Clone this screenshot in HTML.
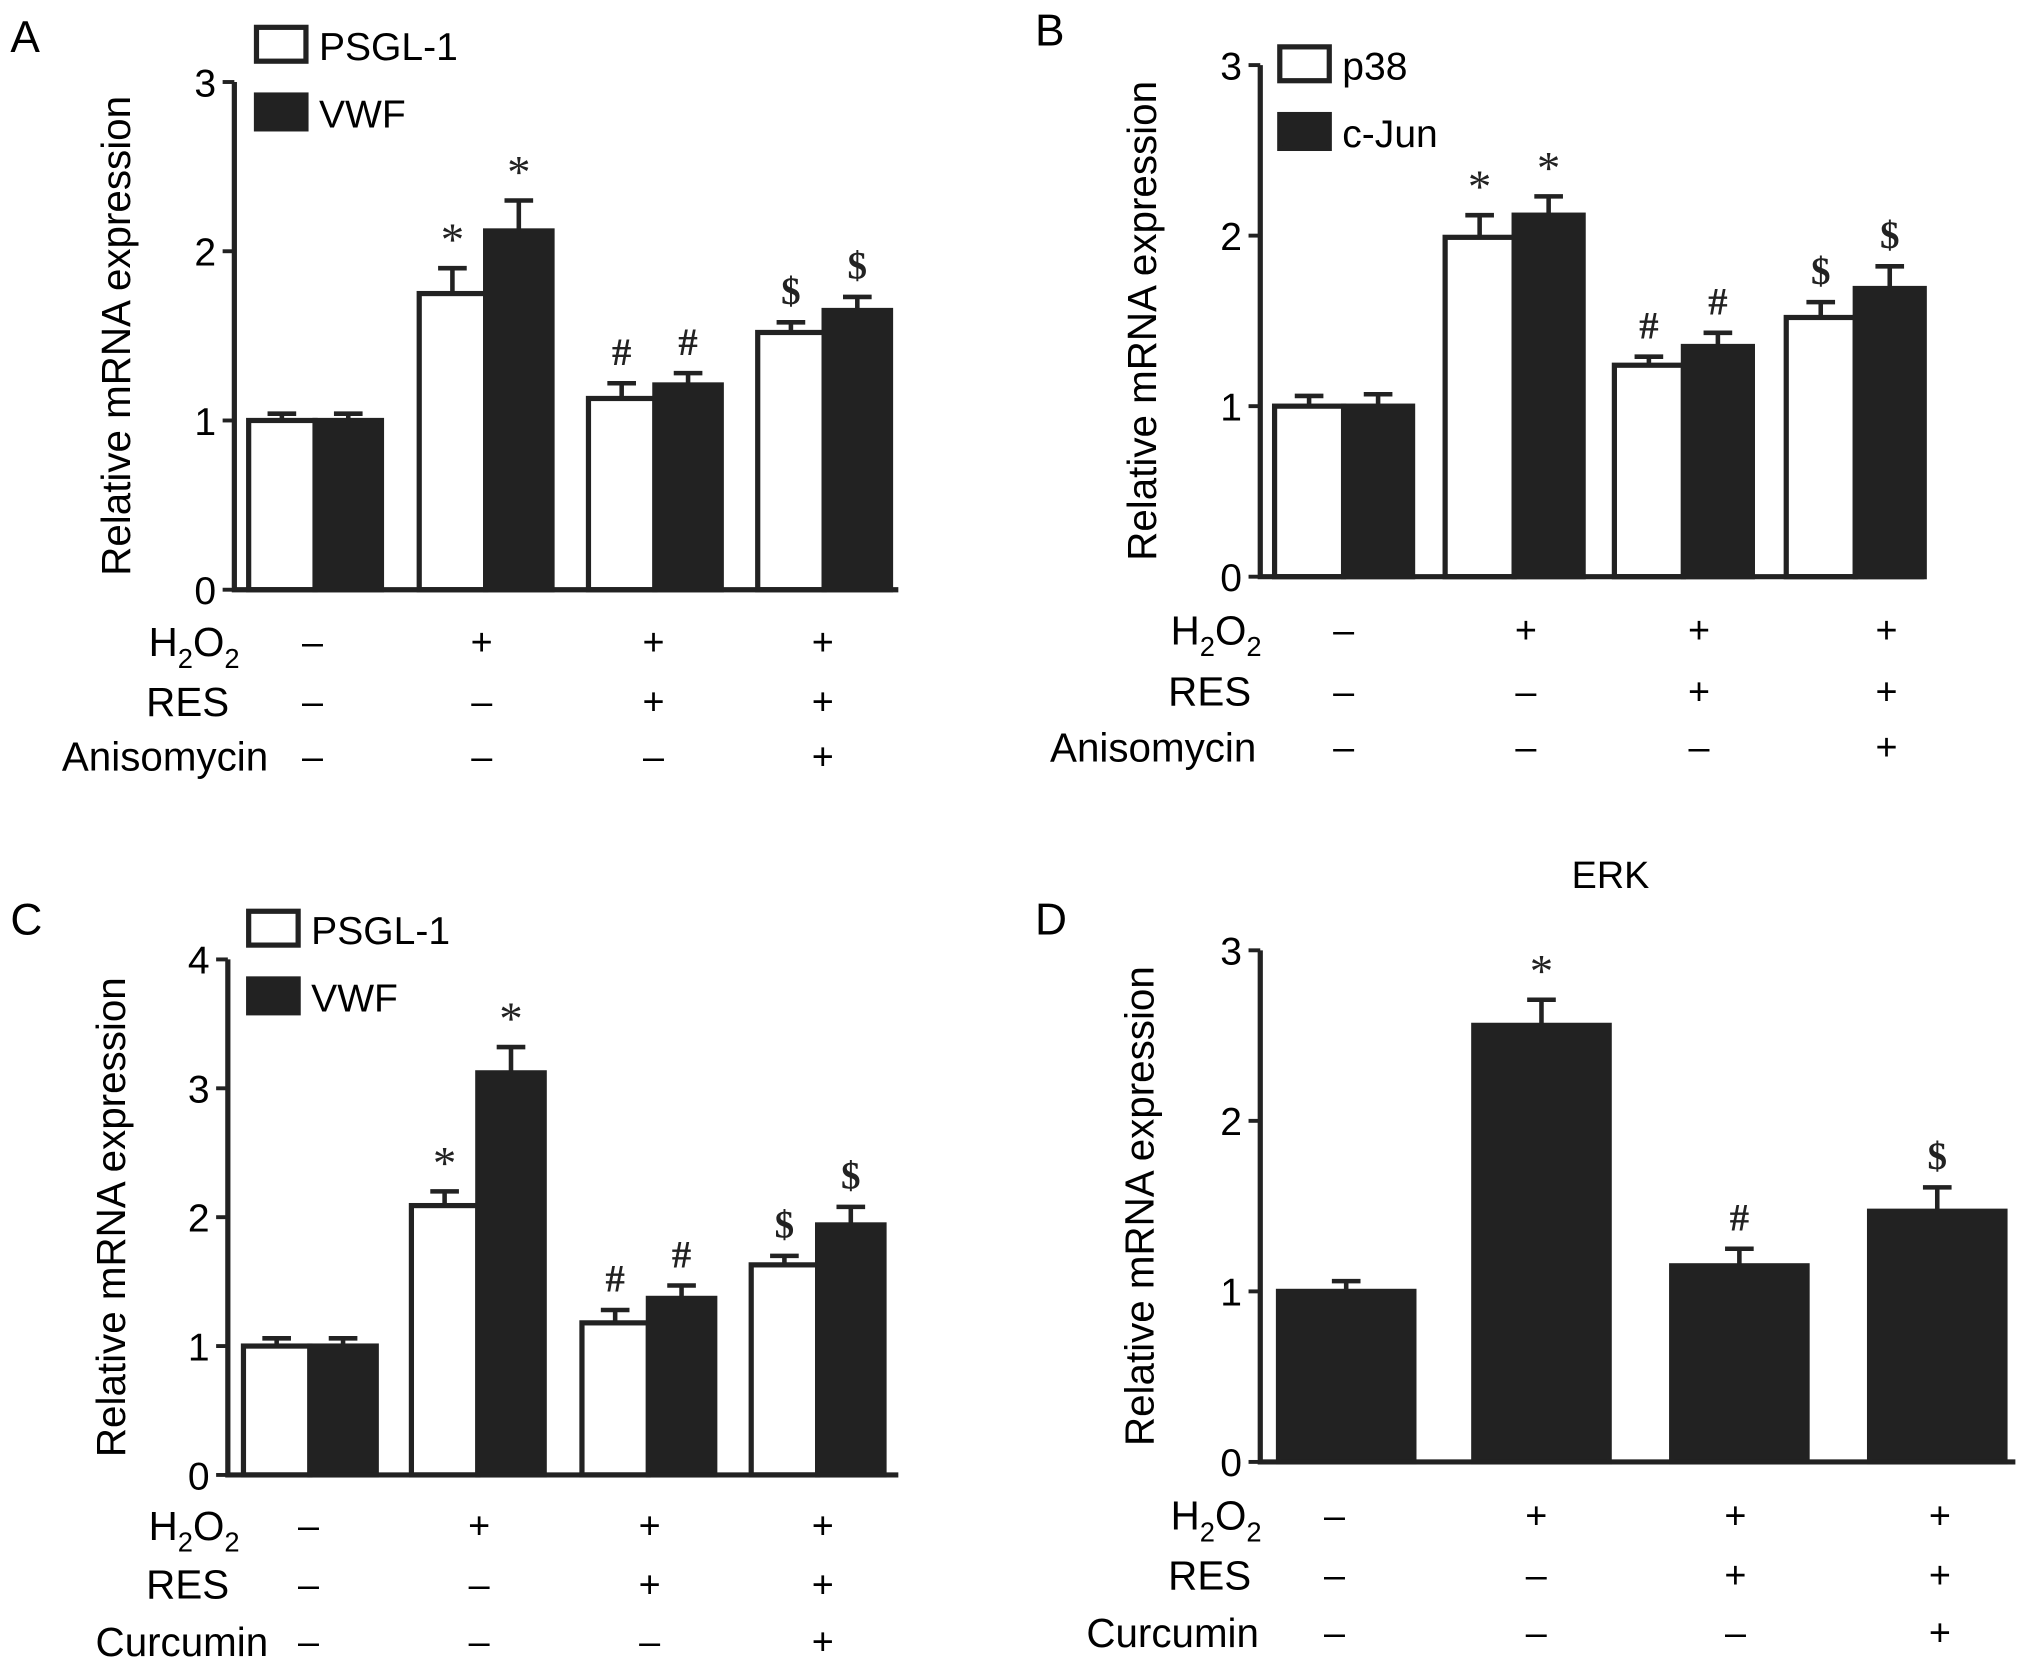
<!DOCTYPE html>
<html><head><meta charset="utf-8"><style>
html,body{margin:0;padding:0;background:#fff}
svg{display:block;font-family:"Liberation Sans",Arial,sans-serif}
</style></head><body>
<svg id="fig" width="2031" height="1665" viewBox="0 0 1560 1279" preserveAspectRatio="none"></svg>
<script>
// ---- data ----
const groupsCount = 4;
const aPsgl = [1.0, 1.75, 1.13, 1.52];
const aPsglErr = [0.04, 0.15, 0.09, 0.06];
const aVwf = [1.0, 2.12, 1.21, 1.65];
const aVwfErr = [0.04, 0.18, 0.07, 0.08];
const aMarks = ["", "*", "#", "$"];
const bP38 = [1.0, 1.99, 1.24, 1.52];
const bP38Err = [0.06, 0.13, 0.05, 0.09];
const bCjun = [1.0, 2.12, 1.35, 1.69];
const bCjunErr = [0.07, 0.11, 0.08, 0.13];
const cPsgl = [1.0, 2.09, 1.18, 1.63];
const cPsglErr = [0.06, 0.11, 0.1, 0.07];
const cVwf = [1.0, 3.12, 1.37, 1.94];
const cVwfErr = [0.06, 0.2, 0.1, 0.14];
const dErk = [1.0, 2.56, 1.15, 1.47];
const dErkErr = [0.06, 0.15, 0.1, 0.14];
const ticks3 = ["0", "1", "2", "3"];
const ticks4 = ["0", "1", "2", "3", "4"];
const h2o2Row = ["–", "+", "+", "+"];
const resRow = ["–", "–", "+", "+"];
const inhRow = ["–", "–", "–", "+"];

const NS = "http://www.w3.org/2000/svg";
const svg = document.getElementById("fig");
function el(tag, attrs, parent, text) {
  const e = document.createElementNS(NS, tag);
  for (const k in attrs) e.setAttribute(k, attrs[k]);
  if (text !== undefined) e.textContent = text;
  (parent || svg).appendChild(e);
  return e;
}

function panel(p) {
  const g = el("g", {});
  
  
  const unit = (p.y0 - p.yTop) / (p.ticks.length - 1);
  const Y = v => p.y0 - v * unit;
  const lt = el("text", {x: p.letterX, y: p.letterY, "font-size": 34}, g, p.letter);
  
  
  const yl = el("text", {x: 0, y: 0, "font-size": 31, "text-anchor": "middle", transform: `translate(${p.ylabX},${(p.y0 + p.yTop) / 2}) rotate(-90)`}, g, "Relative mRNA expression");
  
  
  p.series.forEach((s, si) => {
    for (let i = 0; i < groupsCount; i++) {
      const x = p.groupX[i] + si * p.bw;
      const v = s.vals[i], e = s.err[i];
      const ty = Y(v + e);
      const eb = el("path", {d: `M${x + p.bw / 2} ${Y(v)}V${ty}M${x + p.bw / 2 - 11} ${ty}H${x + p.bw / 2 + 11}`, stroke: "#222", "stroke-width": 3.5, fill: "none"}, g);
      
      
      const r = el("rect", {x: x, y: Y(v), width: p.bw, height: p.y0 - Y(v), fill: s.fill, stroke: "#222", "stroke-width": 4}, g);
      
      
      if (aMarks[i]) {
        const isStar = aMarks[i] === "*";
        const m = el("text", {x: x + p.bw / 2, y: ty - (isStar ? 10 : 14), "font-size": isStar ? 36 : 30, "text-anchor": "middle", "font-family": "Liberation Serif, serif", "font-weight": isStar ? "normal" : "bold", fill: "#222"}, g, aMarks[i]);
        
        
      }
    }
  });
  const ax = el("path", {d: `M${p.ax} ${p.yTop}V${p.y0}H${p.xEnd}`, stroke: "#222", "stroke-width": 4, fill: "none"}, g);
  
  
  p.ticks.forEach((t, i) => {
    const ty = Y(i);
    const tk = el("path", {d: `M${p.ax - 9} ${ty}H${p.ax}`, stroke: "#222", "stroke-width": 3}, g);
    
    
    const tl = el("text", {x: p.ax - 14, y: ty + 11, "font-size": 30, "text-anchor": "end"}, g, t);
    
    
  });
  (p.legend || []).forEach((lg, i) => {
    const ly = p.legY + i * 52;
    const b = el("rect", {x: p.legX, y: ly, width: 38, height: 26, fill: lg.fill, stroke: "#222", "stroke-width": 4}, g);
    
    
    const t = el("text", {x: p.legX + 48, y: ly + 25, "font-size": 30}, g, lg.label);
    
    
  });
  if (p.title) {
    const t = el("text", {x: p.title[1], y: p.title[2], "font-size": 29, "text-anchor": "middle"}, g, p.title[0]);
    
    
  }
  const rows = [h2o2Row, resRow, inhRow];
  rows.forEach((row, ri) => {
    const ry = p.rowY[ri];
    let lab;
    if (ri === 0) {
      lab = el("text", {x: p.labEnd, y: ry + 11, "font-size": 31, "text-anchor": "end"}, g);
      el("tspan", {}, lab, "H");
      el("tspan", {"font-size": 21, dy: 9}, lab, "2");
      el("tspan", {dy: -9}, lab, "O");
      el("tspan", {"font-size": 21, dy: 9}, lab, "2");
    } else {
      lab = el("text", {x: p.labEnd + (ri === 2 ? p.inhShift : -8), y: ry + 11, "font-size": 31, "text-anchor": "end"}, g, ri === 1 ? "RES" : p.inh);
    }
    
    
    row.forEach((s, i) => {
      const t = el("text", {x: p.symX[i], y: ry + 10, "font-size": 29, "text-anchor": "middle"}, g, s);
      
      
    });
  });
}

panel({letter: "A", letterX: 8, letterY: 40, ax: 180, y0: 453, yTop: 63, xEnd: 690, ticks: ticks3, ylabX: 100,
  groupX: [191, 322, 452, 582], bw: 51,
  series: [{key: "psgl1", vals: aPsgl, err: aPsglErr, fill: "#fff"}, {key: "vwf", vals: aVwf, err: aVwfErr, fill: "#222"}],
  legend: [{label: "PSGL-1", fill: "#fff"}, {label: "VWF", fill: "#222"}], legX: 197, legY: 21,
  rowY: [493, 539, 581], labEnd: 184, inhShift: 22, inh: "Anisomycin", symX: [240, 370, 502, 632]});
panel({letter: "B", letterX: 795, letterY: 35, ax: 968, y0: 443, yTop: 50, xEnd: 1478, ticks: ticks3, ylabX: 888,
  groupX: [979, 1110, 1240, 1372], bw: 53,
  series: [{key: "p38", vals: bP38, err: bP38Err, fill: "#fff"}, {key: "c-jun", vals: bCjun, err: bCjunErr, fill: "#222"}],
  legend: [{label: "p38", fill: "#fff"}, {label: "c-Jun", fill: "#222"}], legX: 983, legY: 36,
  rowY: [484, 531, 574], labEnd: 969, inhShift: -4, inh: "Anisomycin", symX: [1032, 1172, 1305, 1449]});
panel({letter: "C", letterX: 8, letterY: 718, ax: 175, y0: 1133, yTop: 737, xEnd: 690, ticks: ticks4, ylabX: 96,
  groupX: [187, 316, 447, 577], bw: 51,
  series: [{key: "psgl1", vals: cPsgl, err: cPsglErr, fill: "#fff"}, {key: "vwf", vals: cVwf, err: cVwfErr, fill: "#222"}],
  legend: [{label: "PSGL-1", fill: "#fff"}, {label: "VWF", fill: "#222"}], legX: 191, legY: 700,
  rowY: [1172, 1217, 1261], labEnd: 184, inhShift: 22, inh: "Curcumin", symX: [237, 368, 499, 632]});
panel({letter: "D", letterX: 795, letterY: 718, ax: 968, y0: 1123, yTop: 730, xEnd: 1548, ticks: ticks3, ylabX: 886,
  groupX: [982, 1132, 1284, 1436], bw: 104,
  series: [{key: "erk", vals: dErk, err: dErkErr, fill: "#222"}],
  legend: [], title: ["ERK", 1237, 682],
  rowY: [1164, 1210, 1254], labEnd: 969, inhShift: -2, inh: "Curcumin", symX: [1025, 1180, 1333, 1490]});
</script>
</body></html>
